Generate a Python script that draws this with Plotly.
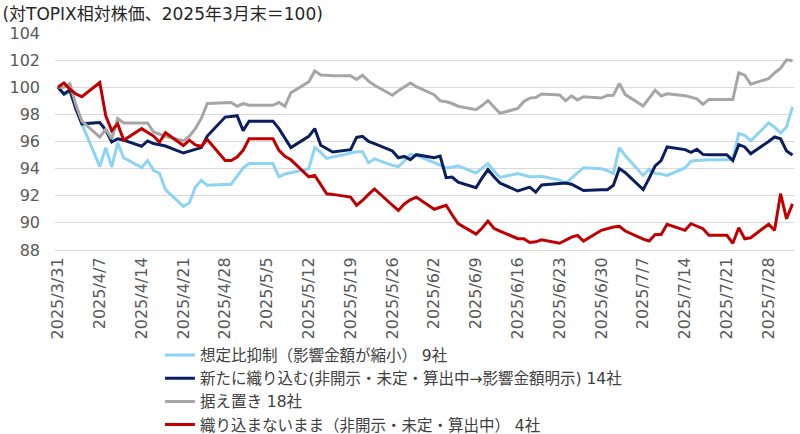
import plotly.graph_objects as go
import pandas as pd


# **** Data (weekdays 2025/3/31 - 2025/8/1, holidays carry the previous value)
dates = pd.bdate_range("2025-03-31", "2025-08-01")

series_names = [
    "想定比抑制（影響金額が縮小） 9社",
    "新たに織り込む(非開示・未定・算出中→影響金額明示) 14社",
    "据え置き 18社",
    "織り込まないまま（非開示・未定・算出中） 4社",
]

light_blue_values = [
    100.0, 99.45, 99.65, 98.4, 97.3,
    94.15, 95.55, 94.12, 95.9, 94.8,
    94.07, 94.6, 93.87, 93.65, 92.45,
    91.22, 91.46, 92.65, 93.14, 92.77,
    92.85, 92.85, 93.45, 94.05, 94.37,
    94.37, 94.37, 93.4, 93.6, 93.7,
    94.0, 95.55, 95.2, 94.75, 94.85,
    95.2, 95.25, 95.25, 94.42, 94.72,
    94.24, 94.15, 94.56, 95.05, 94.98,
    94.45, 94.25, 94.05, 94.1, 94.2,
    93.67, 94.0, 94.37, 93.85, 93.35,
    93.63, 93.5, 93.4, 93.4, 93.43,
    93.15, 92.92, 93.3, 93.7, 94.07,
    94.0, 93.85, 93.63, 95.55, 94.95,
    93.5, 93.95, 93.65, 93.6, 93.5,
    94.05, 94.55, 94.6, 94.63, 94.66,
    94.66, 94.7, 96.58, 96.46, 96.05,
    97.37, 97.05, 96.63, 97.07, 98.55,
]

navy_values = [
    100.0, 99.5, 99.8, 98.4, 97.3,
    97.4, 96.85, 95.96, 96.2, 96.1,
    95.65, 96.04, 95.85, 95.75, 95.67,
    95.15, 95.3, 95.4, 95.55, 96.4,
    97.8, 97.85, 97.9, 96.8, 97.5,
    97.5, 97.5, 96.95, 96.2, 95.55,
    96.38, 96.95, 95.72, 95.45, 95.23,
    95.4, 96.3, 96.38, 96.0, 95.85,
    95.3, 94.8, 94.9, 94.66, 95.03,
    94.8, 94.93, 93.33, 93.38, 93.0,
    92.6, 93.3, 93.93, 93.4, 92.94,
    92.35, 92.5, 92.64, 92.27, 92.8,
    92.9, 92.94, 92.85, 92.6, 92.38,
    92.45, 92.45, 92.77, 94.0, 93.7,
    92.45, 93.3, 94.2, 94.6, 95.6,
    95.4, 95.2, 95.42, 95.05, 95.03,
    95.03, 94.6, 95.77, 95.6, 95.1,
    96.0, 96.33, 96.2, 95.3, 95.0,
]

gray_values = [
    100.0, 100.0, 100.25, 98.7, 97.5,
    96.33, 96.9, 96.2, 97.7, 97.37,
    97.37, 97.37, 96.7, 96.55, 96.38,
    96.05, 96.4, 96.95, 97.7, 98.8,
    98.87, 98.87, 98.6, 98.8, 98.67,
    98.67, 98.67, 98.88, 98.6, 99.6,
    100.4, 101.2, 100.9, 100.88, 100.85,
    100.85, 100.57, 100.89, 100.45, 100.15,
    99.41, 99.75, 100.05, 100.32, 100.05,
    99.45, 99.0, 98.93, 98.8, 98.6,
    98.35, 98.65, 99.02, 98.55, 98.08,
    98.43, 98.95, 99.2, 99.24, 99.5,
    99.43, 99.0, 99.36, 99.06, 99.3,
    99.2, 99.4, 99.41, 100.27, 99.46,
    98.62, 99.2, 99.78, 99.36, 99.52,
    99.38, 99.25, 99.15, 98.74, 99.1,
    99.1, 99.1, 101.07, 100.89, 100.22,
    100.64, 101.05, 101.4, 102.02, 101.95,
]

red_values = [
    100.0, 100.32, 99.85, 99.5, 99.3,
    100.35, 97.9, 96.8, 97.3, 96.1,
    96.95, 96.7, 96.4, 95.95, 96.65,
    95.7, 96.1, 95.75, 95.65, 96.15,
    94.6, 94.6, 94.85, 95.35, 96.2,
    96.2, 96.2, 95.35, 94.9, 94.65,
    93.4, 93.5, 92.8, 92.15, 92.1,
    91.9, 91.3, 91.65, 92.1, 92.5,
    91.3, 90.92, 91.4, 91.7, 91.9,
    91.0, 91.15, 91.3, 90.6, 89.95,
    89.17, 89.6, 90.13, 89.6, 89.4,
    88.83, 88.83, 88.55, 88.6, 88.75,
    88.5, 88.7, 88.95, 89.08, 88.66,
    89.45, 89.6, 89.7, 89.74, 89.4,
    88.8, 88.66, 89.15, 89.15, 89.9,
    89.45, 89.94, 89.75, 89.57, 89.08,
    89.08, 88.5, 89.64, 88.83, 88.9,
    89.9, 89.45, 92.15, 90.3, 91.4,
]

tick_dates = pd.date_range("2025-03-31", "2025-07-28", freq="7D")
tick_labels = [f"{d.year}/{d.month}/{d.day}" for d in tick_dates]

y_ticks = [88, 90, 92, 94, 96, 98, 100, 102, 104]

colors = ["#8DD3F4", "#0B1F5E", "#A6A6A6", "#C00000"]
all_values = [light_blue_values, navy_values, gray_values, red_values]


# **** Figure
font_family = "DejaVu Sans, Noto Sans CJK JP"

fig = go.Figure()

for name, values, color in zip(series_names, all_values, colors):
    fig.add_trace(go.Scatter(
        x=dates,
        y=values,
        mode="lines",
        name=name,
        line=dict(color=color, width=3),
    ))

fig.update_layout(
    width=800,
    height=434,
    margin=dict(l=55, r=6, t=33, b=184, autoexpand=False),
    paper_bgcolor="white",
    plot_bgcolor="white",
    font=dict(family=font_family, size=16, color="#595959"),
    title=dict(
        text="(対TOPIX相対株価、2025年3月末＝100)",
        x=0.003, xanchor="left", xref="container",
        y=0.968, yanchor="middle", yref="container",
        font=dict(family=font_family, size=17, color="#262626"),
    ),
    showlegend=True,
    legend=dict(
        x=0.142, xanchor="left",
        y=-0.408, yanchor="top",
        orientation="v",
        bgcolor="rgba(0,0,0,0)",
        font=dict(family=font_family, size=15.5, color="#404040"),
        itemwidth=30,
        traceorder="normal",
    ),
)

fig.update_xaxes(
    range=["2025-03-30 12:00", "2025-08-01 06:00"],
    tickvals=tick_dates,
    ticktext=tick_labels,
    tickangle=-90,
    showgrid=False,
    showline=True,
    linecolor="#D9D9D9",
    linewidth=1,
    ticks="",
    automargin=False,
    tickfont=dict(size=16, color="#595959"),
)

fig.update_yaxes(
    range=[88, 104],
    tickvals=y_ticks,
    showgrid=True,
    gridcolor="#D9D9D9",
    gridwidth=1,
    zeroline=False,
    ticks="",
    ticklabelstandoff=14,
    automargin=False,
    tickfont=dict(size=16, color="#595959"),
)

# page body has a default 8px margin; drop it so the figure sits at the window origin
fig.write_html(
    "out.html",
    config={"displayModeBar": False},
    post_script="document.body.style.margin='0';",
)
